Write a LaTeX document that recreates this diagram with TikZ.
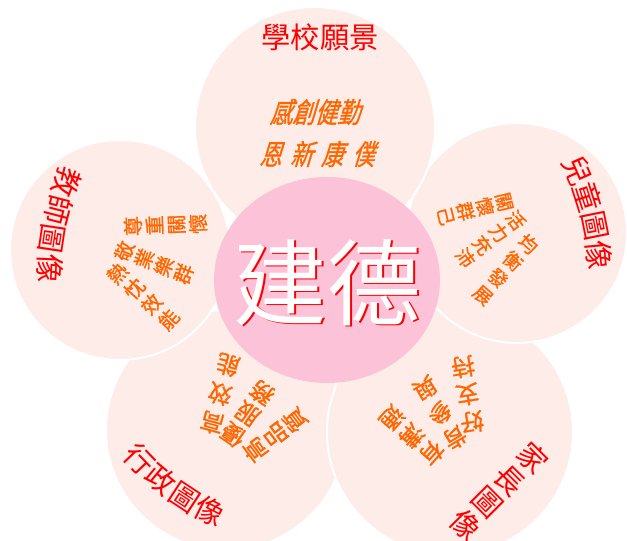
\documentclass[tikz,border=0pt]{standalone}
\usepackage{fontspec}
\usepackage{xcolor}
\usepackage{tikz}
\usetikzlibrary{decorations.text}
\newfontfamily\cjk{Noto Sans CJK TC}
\newfontfamily\cjkbold[FakeBold=1.2]{Noto Sans CJK TC}
\definecolor{petalpink}{RGB}{253,236,232}
\definecolor{heartpink}{RGB}{251,194,216}
\definecolor{mottoorange}{RGB}{255,102,0}
\definecolor{titlered}{RGB}{255,0,0}
\newcommand{\titlefont}{\cjk\fontsize{25}{25}\selectfont\color{titlered}}

\begin{document}
\begin{tikzpicture}[x=0.03cm,y=0.03cm,
    petal/.style={fill=petalpink, draw=white, line width=1.7pt},
    motto/.style={text=mottoorange, align=center, inner sep=0pt},
    arctitle/.style={decorate, decoration={text along path, text align=center, raise=-9pt}}]
    \useasboundingbox (0,0) rectangle (627,540);
    \coordinate (C) at (327,260);
    % Petals
    \draw[petal] (226,110) circle (120);
    \draw[petal] (450,108) circle (123);
    \draw[petal] (120,290) circle (110);
    \draw[petal] (517,307) circle (110);
    \draw[petal] (315,413) circle (120);
    % Centre
    \fill[heartpink] (C) ellipse [x radius=113, y radius=103];
    \node[text=titlered, font=\cjk\fontsize{80}{80}\selectfont] (nameshadow) at (329.5,256) {建德};
    \node[text=white, font=\cjk\fontsize{80}{80}\selectfont] (name) at (327.5,257.5) {建德};
    % Titles of the petals
    \node[font=\titlefont] (visiontitle) at (320,503) {學校願景};
    \path[arctitle, decoration={text={|\titlefont|兒童圖像}}]
       (C) ++(44.5:273) arc [start angle=44.5, end angle=-15.5, radius=273];
    \path[arctitle, decoration={text={|\titlefont|教師圖像}}]
       (C) ++(138.5:278) arc [start angle=138.5, end angle=198.5, radius=278];
    \path[arctitle, decoration={text={|\titlefont|行政圖像}}]
       (C) ++(203.5:260) arc [start angle=203.5, end angle=263.5, radius=260];
    \node[text=titlered, font={\cjk\fontsize{25}{27}\selectfont}, align=center, inner sep=0pt, rotate=-45]
       (parenttitle) at (499,49) {家\\長\\圖\\像};
    % Mottos: school vision
    \node[motto, font=\cjkbold\fontsize{24}{24}\selectfont, xslant=0.3, xscale=0.8]
       (vision1) at (318,428) {感創健勤};
    \node[motto, font=\cjkbold\fontsize{24}{24}\selectfont, xslant=0.3, xscale=0.8]
       (vision2) at (320,386) {恩\hspace{9pt}新\hspace{9pt}康\hspace{9pt}僕};
    % Mottos: children
    \node[motto, font=\cjkbold\fontsize{16}{19.4}\selectfont, rotate=-41.4]
       (kid1) at (505.5,270.5) {均\\衡\\發\\展};
    \node[motto, font=\cjkbold\fontsize{16}{17.9}\selectfont, rotate=-53.3]
       (kid2) at (490.5,301) {活\\力\\充\\沛};
    \node[motto, font=\cjkbold\fontsize{16}{17.1}\selectfont, rotate=-76.4]
       (kid3) at (475,331) {關\\懷\\群\\己};
    % Mottos: teachers
    \node[motto, font=\cjkbold\fontsize{17}{18.5}\selectfont, rotate=92]
       (teacher1) at (165.5,315) {尊\\重\\關\\懷};
    \node[motto, font=\cjkbold\fontsize{17}{18}\selectfont, rotate=69]
       (teacher2) at (154,277.5) {敬\\業\\樂\\群};
    \node[motto, font=\cjkbold\fontsize{17}{19.6}\selectfont, rotate=48]
       (teacher3) at (143,243.5) {熱\\忱\\效\\能};
    % Mottos: administration
    \node[motto, font=\cjkbold\fontsize{20}{25.6}\selectfont, rotate=164.6]
       (admin1) at (220,146) {高\\效\\能};
    \node[motto, font=\cjkbold\fontsize{20}{21.8}\selectfont, rotate=145.4]
       (admin2) at (247.5,126) {優\\服\\務};
    \node[motto, font=\cjkbold\fontsize{20}{21.3}\selectfont, rotate=126.9]
       (admin3) at (275,105) {高\\品\\質};
    % Mottos: parents
    \node[motto, font=\cjkbold\fontsize{20}{22.6}\selectfont, rotate=-131.2]
       (parent1) at (412,104.5) {有\\溝\\通};
    \node[motto, font=\cjkbold\fontsize{20}{24.8}\selectfont, rotate=-149]
       (parent2) at (440,127) {肯\\參\\與};
    \node[motto, font=\cjkbold\fontsize{20}{23.9}\selectfont, rotate=-170.7]
       (parent3) at (467.5,145.5) {好\\支\\持};
\end{tikzpicture}
\end{document}
